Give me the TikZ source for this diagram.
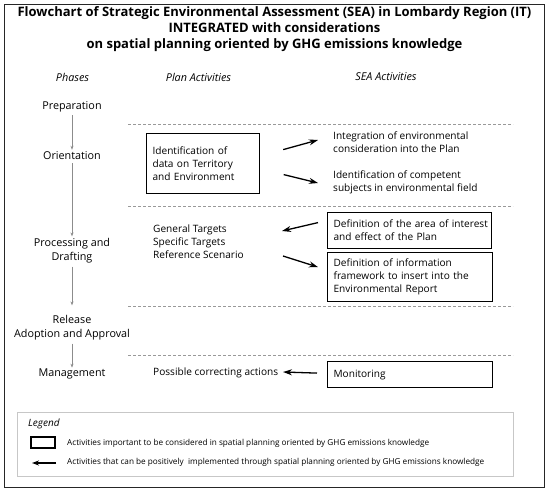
\documentclass[tikz,border=0pt]{standalone}
\usepackage{fontspec}
\setmainfont{Open Sans}
\usetikzlibrary{arrows.meta,calc,positioning}

\definecolor{phasegray}{gray}{0.55}
\definecolor{dashgray}{gray}{0.6}
\definecolor{legendgray}{gray}{0.78}

\begin{document}
\begin{tikzpicture}[x=1pt,y=-1pt,
  txt/.style={inner sep=0pt, align=left, anchor=west, font=\fontsize{10.1}{13}\selectfont},
  phase/.style={inner sep=0pt, align=center, font=\fontsize{10.8}{14}\selectfont},
  head/.style={inner sep=0pt, font=\fontsize{10.8}{13}\selectfont\itshape},
  actbox/.style={draw, line width=1.2pt, anchor=north west, align=left, inner xsep=6pt,
    inner ysep=0pt, font=\fontsize{10.1}{13}\selectfont},
  keytxt/.style={inner sep=0pt, anchor=west, font=\fontsize{8.2}{10}\selectfont},
  phasearrow/.style={draw=phasegray, line width=0.6pt, -{Stealth[length=4pt,width=3pt]}},
  actarrow/.style={line width=1.3pt, -{Stealth[length=9pt,width=6pt]}},
  sep/.style={draw=dashgray, line width=0.6pt, dash pattern=on 3pt off 2pt},
]
\useasboundingbox (0,0) rectangle (550,493);
% cornice
\draw[line width=1pt, black!85] (4,4) rectangle (544,487);
% titolo
\node[align=center, inner sep=0pt, font=\fontsize{13}{16}\selectfont\bfseries] (title) at (274.5,28.7)
  {Flowchart of Strategic Environmental Assessment (SEA) in Lombardy Region (IT)\\
   INTEGRATED with considerations\\
   on spatial planning oriented by GHG emissions knowledge};
% intestazioni
\node[head] (hphase) at (72.5,77) {Phases};
\node[head] (hplan) at (198.5,77) {Plan Activities};
\node[head] (hsea) at (386,77) {SEA Activities};
% fasi
\node[phase] (prep) at (72,107) {Preparation};
\node[phase] (orient) at (72,156) {Orientation};
\node[phase] (proc) at (72,251) {Processing and\\Drafting};
\node[phase] (release) at (72,328) {Release\\Adoption and Approval};
\node[phase] (manage) at (72,374) {Management};
\foreach \a/\b/\s in {prep/orient/2, orient/proc/2, proc/release/10, release/manage/1}
  \draw[phasearrow, shorten <=3pt, shorten >=\s pt] (\a.south) -- (\b.north);
% linee tratteggiate
\foreach \y in {124,206,306,355} \draw[sep] (128,\y) -- (513,\y);
% attivita del piano
\node[actbox, text width=101pt, minimum height=60pt] (terr) at (146,133)
  {Identification of\\data on Territory\\and Environment};
\node[txt] (targets) at (153,242) {General Targets\\Specific Targets\\Reference Scenario};
\node[txt] (correct) at (153,373) {Possible correcting actions};
% attivita VAS
\node[txt] (integ) at (333,142.5) {Integration of environmental\\consideration into the Plan};
\node[txt] (compet) at (333,182) {Identification of competent\\subjects in environmental field};
\node[actbox, text width=152pt, minimum height=36pt] (area) at (327,212)
  {\mbox{Definition of the area of interest}\\and effect of the Plan};
\node[actbox, text width=153pt, minimum height=49pt] (info) at (327,252)
  {Definition of information\\framework to insert into the\\Environmental Report};
\node[actbox, text width=153pt, minimum height=26pt] (monitor) at (327,361) {Monitoring};
% frecce
\draw[actarrow] ($(terr.east)+(23,-14)$) -- ($(integ.west)+(-15,-2.5)$);
\draw[actarrow] ($(terr.east)+(23.5,11)$) -- ($(compet.west)+(-15,1)$);
\draw[actarrow] ($(area.west)+(-9,-8)$) -- ($(targets.west)+(129,-11)$);
\draw[actarrow] ($(targets.west)+(130,14)$) -- ($(info.west)+(-9,-10)$);
\draw[actarrow] ($(monitor.west)+(-10,-1.5)$) -- ($(correct.west)+(130,-1)$);
% legenda
\draw[legendgray, line width=0.7pt] (17,412) rectangle (513,476);
\node[inner sep=0pt, anchor=west, font=\fontsize{10}{12}\selectfont\itshape] (legend) at (28,424) {Legend};
\node[draw, line width=1.2pt, minimum width=24pt, minimum height=11pt, inner sep=0pt] (keybox) at (43,442.5) {};
\node[keytxt] (keyboxtxt) at (67,443)
  {Activities important to be considered in spatial planning oriented by GHG emissions knowledge};
\node[keytxt] (keyarrowtxt) at (67,462)
  {Activities that can be positively\ \ implemented through spatial planning oriented by GHG emissions knowledge};
\draw[line width=1.3pt, -{Stealth[length=7pt,width=5pt]}] ($(keyarrowtxt.west)+(-11,1)$) -- ($(keyarrowtxt.west)+(-35,1)$);
\end{tikzpicture}
\end{document}
